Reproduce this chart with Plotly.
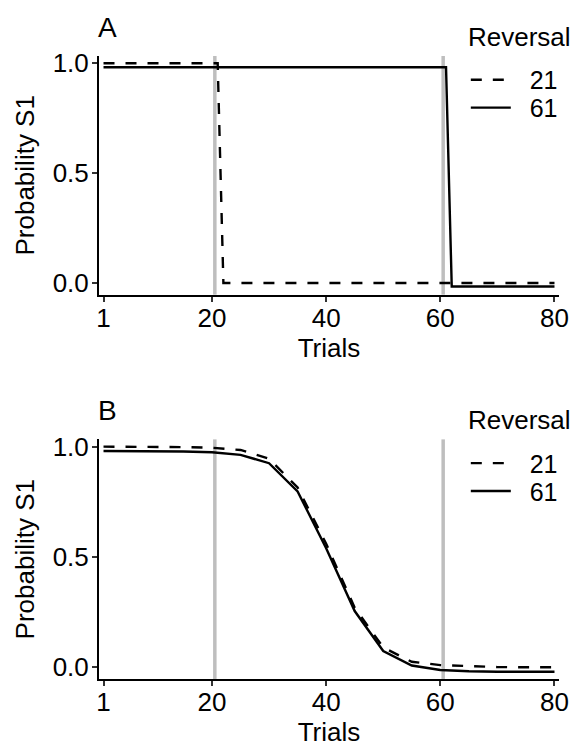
import plotly.graph_objects as go

# ---- data ----
trials_a = list(range(1, 81))
reversal_labels = ["21", "61"]
# Panel A: step functions
prob_a_21 = [1.0 if t <= 21 else 0.0 for t in trials_a]
prob_a_61 = [0.982 if t <= 61 else -0.016 for t in trials_a]

# Panel B: smooth curves (sampled every 5 trials)
trials_b = [1, 5, 10, 15, 20, 25, 30, 35, 40, 45, 50, 55, 60, 65, 70, 75, 80]
prob_b_21 = [1.0, 1.0, 1.0, 0.998, 0.995, 0.985, 0.945, 0.815, 0.56, 0.27, 0.09, 0.025, 0.01, 0.004, 0.001, 0.0, 0.0]
prob_b_61 = [0.98, 0.98, 0.98, 0.978, 0.975, 0.963, 0.925, 0.797, 0.54, 0.255, 0.074, 0.008, -0.012, -0.018, -0.02, -0.02, -0.02]

reversal_lines = [20.5, 60.5]
x_ticks = [1, 20, 40, 60, 80]
y_ticks = [0.0, 0.5, 1.0]
panel_labels = ["A", "B"]
legend_title = "Reversal"

FONT = "Liberation Sans, Arial, Helvetica, sans-serif"
FS = 26
LFS = 25

H_TOT = 624.0
W_TOT = 464.0


def py(px):
    """pixel y (from top of page) -> paper y"""
    return 1.0 + (56 - px) / H_TOT


def pxx(px):
    return (px - 99) / W_TOT


fig = go.Figure()
dash21 = "11px,11px"
PAD = "\u00a0\u00a0"

series = [
    (trials_a, prob_a_21, reversal_labels[0], dash21, "x", "y", "legend"),
    (trials_a, prob_a_61, reversal_labels[1], "solid", "x", "y", "legend2"),
    (trials_b, prob_b_21, reversal_labels[0], dash21, "x2", "y2", "legend3"),
    (trials_b, prob_b_61, reversal_labels[1], "solid", "x2", "y2", "legend4"),
]
for xs, ys, nm, dsh, xa, ya, lg in series:
    fig.add_trace(go.Scatter(x=xs, y=ys, mode="lines", name=PAD + nm,
                             line=dict(color="black", width=2.4, dash=dsh),
                             xaxis=xa, yaxis=ya, legend=lg))

for xr, yr in [("x", "y"), ("x2", "y2")]:
    for v in reversal_lines:
        fig.add_shape(type="line", x0=v, x1=v, y0=0, y1=1, xref=xr, yref=f"{yr} domain",
                      line=dict(color="#BEBEBE", width=3.5), layer="below")

XR = [0.21, 80.79]
YR = [-0.053, 1.033]
dom_a = [(680 - 295) / H_TOT, 1.0]
dom_b = [0.0, (680 - 440) / H_TOT]

axis_common = dict(showline=True, linecolor="black", linewidth=2, ticks="outside", ticklen=5,
                   tickwidth=1.5, tickcolor="#333333", showgrid=False, zeroline=False,
                   tickfont=dict(family=FONT, size=FS, color="black"),
                   title_font=dict(family=FONT, size=FS, color="black"))

legend_common = dict(font=dict(family=FONT, size=LFS, color="black"), xanchor="left",
                     yanchor="middle", bgcolor="rgba(0,0,0,0)", itemwidth=40)

annotations = []
for i, lab in enumerate(panel_labels):
    off = 384 * i
    annotations.append(dict(text=lab, x=pxx(96), y=py(27 + off), xref="paper", yref="paper",
                            xanchor="left", yanchor="middle", showarrow=False,
                            font=dict(family=FONT, size=28, color="black")))
    annotations.append(dict(text=legend_title, x=pxx(469), y=py(37 + off), xref="paper", yref="paper",
                            xanchor="left", yanchor="middle", showarrow=False,
                            font=dict(family=FONT, size=FS, color="black")))

fig.update_layout(
    width=581, height=747,
    margin=dict(l=99, r=18, t=56, b=67),
    plot_bgcolor="white", paper_bgcolor="white",
    font=dict(family=FONT, size=FS, color="black"),
    xaxis=dict(domain=[0, 1], range=XR, tickvals=x_ticks, anchor="y", ticklabelstandoff=-6,
               title=dict(text="Trials", standoff=0), **axis_common),
    yaxis=dict(domain=dom_a, range=YR, tickvals=y_ticks, tickformat=".1f", anchor="x",
               ticklabelstandoff=-2, title=dict(text="Probability S1", standoff=11), **axis_common),
    xaxis2=dict(domain=[0, 1], range=XR, tickvals=x_ticks, anchor="y2", ticklabelstandoff=-6,
                title=dict(text="Trials", standoff=0), **axis_common),
    yaxis2=dict(domain=dom_b, range=YR, tickvals=y_ticks, tickformat=".1f", anchor="x2",
                ticklabelstandoff=-2, title=dict(text="Probability S1", standoff=11), **axis_common),
    legend=dict(x=pxx(469), y=py(80), **legend_common),
    legend2=dict(x=pxx(469), y=py(108), **legend_common),
    legend3=dict(x=pxx(469), y=py(80 + 384), **legend_common),
    legend4=dict(x=pxx(469), y=py(108 + 384), **legend_common),
    showlegend=True,
    annotations=annotations,
)

fig.write_html("out.html", config={"displayModeBar": False},
               post_script="document.body.style.margin='0';")
